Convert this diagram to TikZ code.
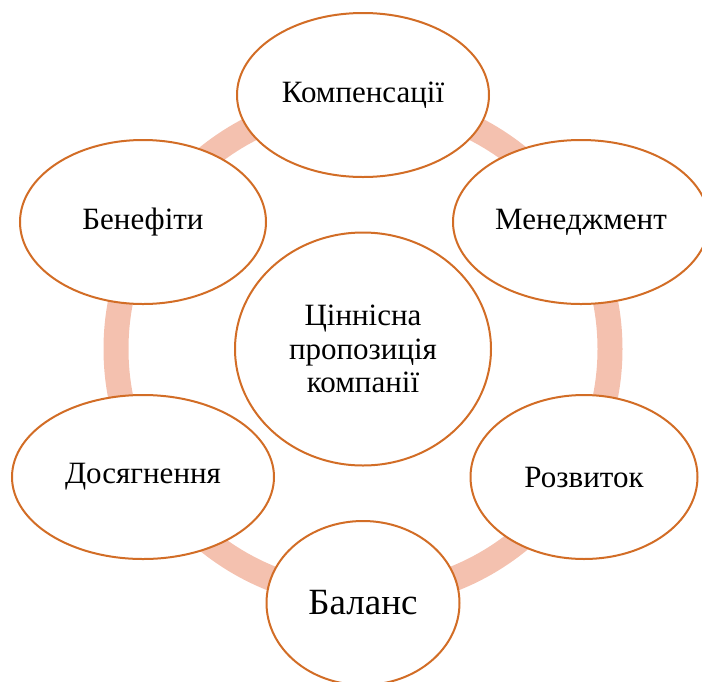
\documentclass[tikz,border=0pt]{standalone}
\usepackage{fontspec}
\setmainfont{Liberation Serif}
\usetikzlibrary{shapes.geometric}
\definecolor{ringc}{HTML}{F4C1AF}
\definecolor{edgec}{HTML}{D26D26}
\tikzset{
  oval/.style={ellipse, draw=edgec, line width=2pt, fill=white, inner sep=0pt, align=center, font=\fontsize{31}{33.5}\selectfont},
}
\begin{document}
\begin{tikzpicture}[x=1pt,y=-1pt]
\useasboundingbox (0,0) rectangle (702,681);
\clip (0,0) rectangle (702,681);
\coordinate (ctr) at (363,349);
\draw[ringc, line width=25pt] (ctr) circle[radius=247];
\node[oval, minimum width=256, minimum height=233] (c) at (363,349) {Ціннісна\\пропозиція\\компанії};
\node[oval, minimum width=252, minimum height=164] (komp) at (363,95) {Компенсації};
\node[oval, minimum width=256, minimum height=164] (men) at (581,222) {Менеджмент};
\node[oval, minimum width=227, minimum height=164] (roz) at (584,477) {Розвиток};
\node[oval, minimum width=193, minimum height=164, font=\fontsize{37}{40}\selectfont] (bal) at (363,603) {Баланс};
\node[oval, minimum width=262, minimum height=164] (dos) at (143,477) {Досягнення};
\node[oval, minimum width=246, minimum height=164] (ben) at (143,222) {Бенефіти};
\end{tikzpicture}
\end{document}
